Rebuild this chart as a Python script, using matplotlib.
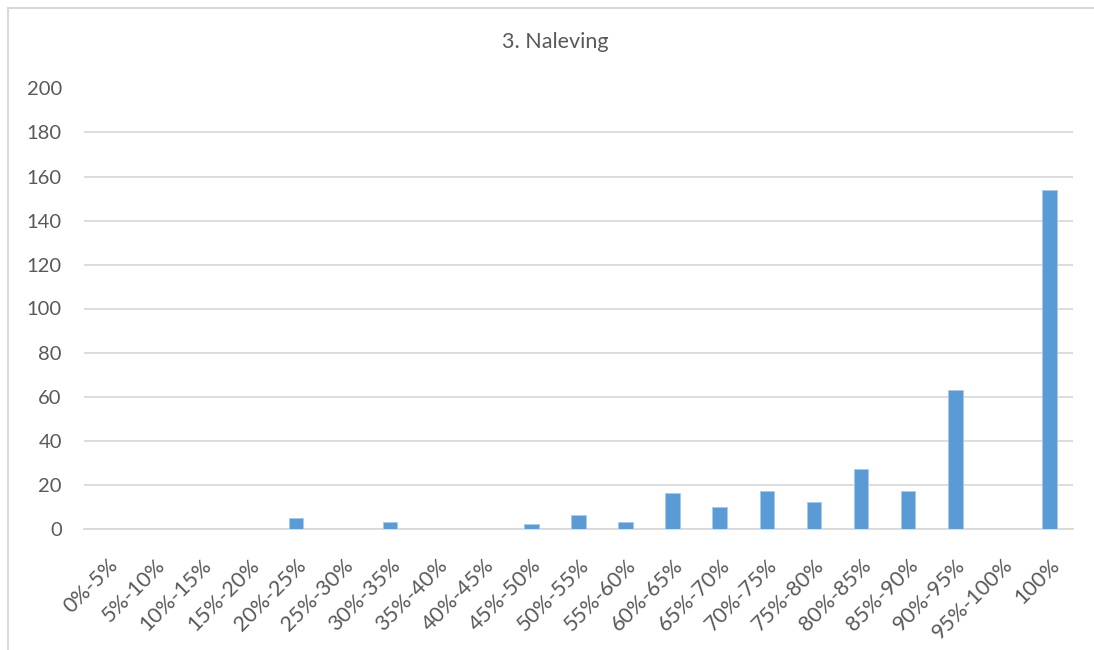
import matplotlib
matplotlib.use("Agg")
import matplotlib.pyplot as plt
from matplotlib.lines import Line2D

categories = ["0%-5%", "5%-10%", "10%-15%", "15%-20%", "20%-25%", "25%-30%",
              "30%-35%", "35%-40%", "40%-45%", "45%-50%", "50%-55%", "55%-60%",
              "60%-65%", "65%-70%", "70%-75%", "75%-80%", "80%-85%", "85%-90%",
              "90%-95%", "95%-100%", "100%"]
values = [0, 0, 0, 0, 5, 0, 3, 0, 0, 2, 6, 3, 16, 10, 17, 12, 27, 17, 63, 0, 154]
y_ticks = [0, 20, 40, 60, 80, 100, 120, 140, 160, 180, 200]
title = "3. Naleving"

W, H = 1094, 650
plt.rcParams['font.family'] = ['Lato', 'DejaVu Sans']
text_color = "#595959"
grid_color = "#d9d9d9"
bar_color = "#5b9bd5"

fig = plt.figure(figsize=(W / 100, H / 100), dpi=100)
ax = fig.add_axes([84 / W, 1 - 528.5 / H, (1073 - 84) / W, (528.5 - 88.5) / H])

x = list(range(len(categories)))
ax.bar(x, values, width=0.31, color=bar_color, edgecolor="#a9c9ea", linewidth=0.6, zorder=3)

ax.set_xlim(-0.5, len(categories) - 0.5)
ax.set_ylim(0, 200)
ax.set_yticks(y_ticks)
ax.set_yticklabels([str(v) for v in y_ticks], fontsize=14.5, color=text_color)
ax.yaxis.grid(True, color=grid_color, linewidth=1.3, zorder=0)
ax.set_axisbelow(True)
ax.tick_params(axis='y', length=0, pad=16)
ax.set_xticks(x)
ax.set_xticklabels(categories, rotation=45, ha='right', va='top',
                   rotation_mode='anchor', fontsize=15.5, color=text_color)
ax.tick_params(axis='x', length=0, pad=19)
for s in ['left', 'right', 'top']:
    ax.spines[s].set_visible(False)
ax.spines['bottom'].set_color(grid_color)
ax.spines['bottom'].set_linewidth(1.3)

fig.text(555 / W, 1 - 42 / H, title, ha='center', va='center', fontsize=15.5, color=text_color)

# chart border
fig.add_artist(Line2D([7.5 / W, 1.0], [1 - 7.5 / H, 1 - 7.5 / H], color=grid_color, linewidth=1.5))
fig.add_artist(Line2D([7.5 / W, 7.5 / W], [1 - 7.5 / H, 0], color=grid_color, linewidth=1.5))

fig.savefig("out.png", dpi=100)
